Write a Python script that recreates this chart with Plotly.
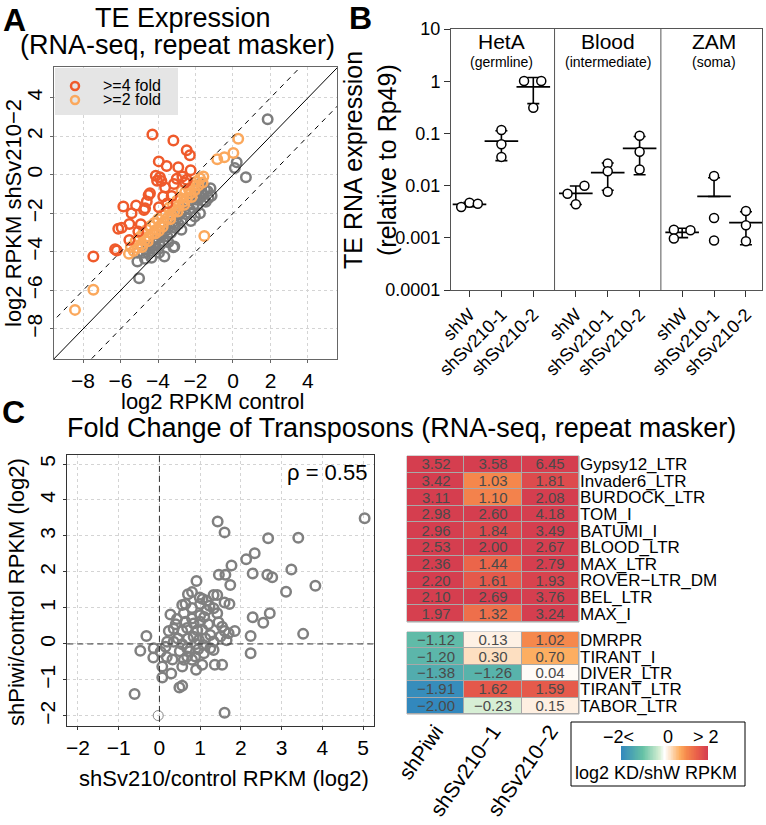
import numpy as np
import plotly.graph_objects as go

W, H = 766, 825
FONT = "Liberation Sans, Arial, sans-serif"


def fx(p):
    return p / W


def fy(p):
    return 1 - p / H


# ---------------- Panel A data (log2 RPKM control vs shSv210-2) ----------------
a_red = [(-4.30, 2.10), (-3.18, 1.78), (-2.47, 1.28), (-2.30, 1.02), (-3.96, 0.70), (-3.54, 0.46),
         (-2.92, 0.40), (-2.26, 0.24), (-4.12, -0.05), (-3.90, -0.12), (-4.05, -0.30), (-3.82, -0.32),
         (-2.70, -0.08), (-3.00, -0.20), (-2.47, -0.25), (-3.62, -0.66), (-3.15, -0.47), (-2.55, -0.40),
         (-4.43, -0.95), (-4.50, -1.05), (-3.72, -1.12), (-3.27, -1.10), (-3.95, -1.68), (-3.50, -1.47),
         (-5.85, -1.64), (-5.17, -1.59), (-5.41, -1.99), (-4.69, -1.73), (-4.60, -1.38), (-4.75, -1.82),
         (-5.53, -2.55), (-4.92, -2.56), (-5.05, -2.94), (-6.12, -2.80), (-5.94, -2.75), (-5.53, -3.38),
         (-6.29, -3.86), (-6.20, -3.93), (-7.45, -4.24)]
a_orange = [(0.28, 1.87), (0.02, 1.13), (-0.46, 0.92), (-0.84, 0.81), (-1.53, -3.17), (-7.45, -5.97),
            (-8.43, -7.01), (-1.58, -0.09), (-1.76, -0.17), (-1.62, -0.40), (-1.85, -0.55), (-1.95, -0.35),
            (-2.05, -0.80), (-2.15, -0.55), (-2.25, -0.95), (-2.35, -0.75), (-2.45, -1.20), (-2.55, -0.90),
            (-2.65, -1.40), (-2.74, -0.83), (-2.80, -1.20), (-2.90, -1.60), (-3.00, -1.35), (-3.10, -1.85),
            (-3.20, -1.55), (-3.30, -2.05), (-3.40, -1.70), (-3.50, -2.25), (-3.60, -1.95), (-3.70, -2.45),
            (-3.80, -2.10), (-3.90, -2.65), (-4.00, -2.30), (-4.10, -2.85), (-4.20, -2.50), (-4.30, -3.05),
            (-4.40, -2.65), (-4.50, -3.20), (-4.60, -2.85), (-4.70, -3.40), (-4.80, -3.05), (-4.90, -3.60),
            (-5.00, -3.25), (-5.10, -3.80), (-5.20, -3.45), (-5.30, -3.95), (-5.45, -3.75), (-5.55, -4.10),
            (-3.35, -2.30), (-3.75, -2.70), (-4.15, -3.05), (-4.55, -3.45), (-2.95, -1.90), (-2.60, -1.55),
            (-2.20, -1.15), (-4.85, -3.75), (-3.95, -2.90)]
a_gray = [(1.85, 2.89), (0.20, 0.66), (0.10, 0.35), (0.69, -0.12), (-1.14, -1.09), (-1.30, -1.20),
          (-1.45, -1.40), (-1.71, -0.43), (-1.76, -1.99), (-2.03, -2.16), (-3.13, -3.72), (-3.66, -4.24),
          (-3.18, -3.76), (-3.95, -4.05), (-4.35, -4.30), (-4.70, -4.35), (-5.10, -4.50), (-5.01, -5.37),
          (-5.08, -4.04), (-1.20, -0.70), (-1.35, -0.85), (-1.50, -0.75), (-1.60, -1.05), (-1.70, -0.90),
          (-1.85, -1.30), (-1.95, -1.05), (-2.10, -1.55), (-2.20, -1.30), (-2.30, -1.80), (-2.40, -1.55),
          (-2.50, -2.05), (-2.60, -1.80), (-2.70, -2.30), (-2.80, -2.00), (-2.90, -2.55), (-3.00, -2.25),
          (-3.10, -2.75), (-3.20, -2.45), (-3.30, -3.00), (-3.40, -2.70), (-3.50, -3.20), (-3.60, -2.90),
          (-3.70, -3.45), (-3.80, -3.10), (-3.90, -3.65), (-4.00, -3.30), (-4.10, -3.85), (-4.20, -3.55),
          (-4.30, -3.95), (-4.40, -3.70), (-4.50, -4.10), (-4.60, -3.85), (-4.80, -4.05), (-2.25, -2.40),
          (-2.75, -2.85), (-3.45, -3.50), (-1.90, -1.60), (-1.55, -1.35)]
a_legend = [">=4 fold", ">=2 fold"]

# ---------------- Panel B data (qPCR, relative to Rp49) ----------------
b_groups = ["HetA", "Blood", "ZAM"]
b_subtitles = ["(germline)", "(intermediate)", "(soma)"]
b_conditions = ["shW", "shSv210-1", "shSv210-2"]
b_hetA = [[0.0039, 0.0047, 0.0045], [0.116, 0.062, 0.0355], [1.01, 1.01, 0.31]]
b_blood = [[0.0070, 0.0099, 0.0044], [0.0265, 0.0189, 0.0076], [0.090, 0.0444, 0.0203]]
b_zam = [[0.00143, 0.00097, 0.00140], [0.0153, 0.00239, 0.00089], [0.00326, 0.00173, 0.00086]]
b_jitter = [[[-0.26, 0, 0.26], [0, 0, 0], [-0.29, 0.25, 0]],
            [[-0.26, 0.27, 0], [0, 0, 0], [0, 0, 0]],
            [[-0.26, -0.26, 0.26], [0, 0, 0], [0, 0, 0]]]
b_yticks = [0.0001, 0.001, 0.01, 0.1, 1, 10]
b_yticktext = ["0.0001", "0.001", "0.01", "0.1", "1", "10"]

# ---------------- Panel C data (fold changes) ----------------
c_points = [(1.43, 3.40), (1.60, 3.10), (5.04, 3.49), (2.67, 2.94), (3.41, 2.95), (2.13, 2.35),
            (2.34, 2.52), (1.77, 2.18), (1.46, 1.92), (1.62, 1.92), (2.29, 1.96), (2.65, 1.92),
            (2.77, 1.85), (3.24, 2.07), (0.91, 1.75), (1.74, 1.64), (3.11, 1.45), (3.83, 1.62),
            (0.70, 1.38), (0.80, 1.44), (0.99, 1.29), (1.06, 1.25), (1.33, 1.36), (1.42, 1.36),
            (1.60, 1.15), (1.72, 1.11), (0.56, 1.08), (0.27, 0.82), (0.43, 0.69), (-0.32, 0.22),
            (-0.47, -0.19), (-0.14, -0.12), (-0.15, -0.38), (0.07, -0.63), (0.07, -0.93), (0.29, -0.82),
            (0.49, -1.21), (0.56, -1.16), (-0.61, -1.39), (1.60, -1.91), (0.90, -0.72), (1.05, -0.58),
            (1.36, -0.58), (1.54, -0.58), (2.29, 0.74), (2.55, 0.59), (2.71, 0.85), (2.24, 0.22),
            (2.24, -0.26), (3.53, 0.28), (1.85, 0.36),
            (0.80, 0.71), (0.68, 0.44), (0.56, 0.36), (0.23, 0.36), (0.35, 0.06), (0.19, 0.06),
            (0.56, -0.01), (0.68, -0.12), (0.97, 0.11), (1.08, -0.03), (1.25, 0.25), (1.33, 0.07),
            (1.50, 0.21), (1.60, 0.36), (1.54, 0.48), (1.42, 0.85), (1.33, 0.99), (1.16, 0.94),
            (1.00, 0.80), (1.00, 0.62), (0.84, 0.57), (0.68, -0.35), (0.80, -0.44), (0.60, -0.44),
            (0.56, -0.63), (0.88, -0.35), (1.09, -0.26), (1.25, -0.12), (1.33, -0.17), (1.13, 0.15),
            (0.93, 0.38), (0.84, 0.20), (0.64, 0.62), (0.35, 0.42), (0.15, -0.08), (0.03, -0.22),
            (0.18, -0.36), (0.32, -0.43), (1.16, 1.20), (1.23, 1.06), (1.00, 1.11), (0.64, 1.11),
            (0.75, -0.20), (0.90, 0.00), (1.05, 0.40), (0.70, 0.15), (1.20, 0.55), (0.45, 0.15),
            (0.95, -0.15), (0.60, 0.85), (1.45, 0.60), (0.80, 1.00), (1.10, 0.75), (0.50, -0.20),
            (0.40, 0.55), (1.70, 0.30), (1.65, 0.10)]
c_faint = [(-0.03, -1.99)]
c_rho = "ρ = 0.55"

# ---------------- Heatmap data ----------------
h_cols = ["shPiwi", "shSv210−1", "shSv210−2"]
h_rows_up = ["Gypsy12_LTR", "Invader6_LTR", "BURDOCK_LTR", "TOM_I", "BATUMI_I", "BLOOD_LTR",
             "MAX_LTR", "ROVER−LTR_DM", "BEL_LTR", "MAX_I"]
h_vals_up = [[3.52, 3.58, 6.45], [3.42, 1.03, 1.81], [3.11, 1.10, 2.08], [2.98, 2.60, 4.18],
             [2.96, 1.84, 3.49], [2.53, 2.00, 2.67], [2.36, 1.44, 2.79], [2.20, 1.61, 1.93],
             [2.10, 2.69, 3.76], [1.97, 1.32, 3.24]]
h_rows_dn = ["DMRPR", "TIRANT_I", "DIVER_LTR", "TIRANT_LTR", "TABOR_LTR"]
h_vals_dn = [[-1.12, 0.13, 1.02], [-1.20, 0.30, 0.70], [-1.38, -1.26, 0.04],
             [-1.91, 1.62, 1.59], [-2.00, -0.23, 0.15]]
cbar_labels = ["−2<", "0", "> 2"]
cbar_title = "log2 KD/shW RPKM"

RED, ORANGE, GRAY = "#EF5A2B", "#FBA85C", "#7D7D7D"
CS = [[0.0, "#3288bd"], [0.25, "#66c2a5"], [0.44, "#d5eed3"], [0.5, "#ffffff"], [0.56, "#fde6cf"],
      [0.675, "#fdae61"], [0.75, "#f68a4c"], [0.875, "#e9604a"], [1.0, "#d53e4f"]]

fig = go.Figure()


def circles(pts, color, xa, ya, size=9.5, lw=2.5):
    return go.Scatter(x=[p[0] for p in pts], y=[p[1] for p in pts], mode="markers", xaxis=xa, yaxis=ya,
                      showlegend=False, hoverinfo="skip",
                      marker=dict(symbol="circle-open", size=size, color=color, line=dict(width=lw, color=color)))


# Panel A
fig.add_trace(circles(a_gray, GRAY, "x", "y"))
fig.add_trace(circles(a_orange, ORANGE, "x", "y"))
fig.add_trace(circles(a_red, RED, "x", "y"))

# Panel B
bx, by, mx, my, mp, mm = [], [], [], [], [], []
for g, reps in enumerate([b_hetA, b_blood, b_zam]):
    for i, vals in enumerate(reps):
        xc = g * 10 / 3 + i
        bx += [xc + o for o in b_jitter[g][i]]
        by += vals
        m = float(np.mean(vals))
        sd = float(np.std(vals, ddof=1))
        mx.append(xc)
        my.append(m)
        mp.append(sd)
        mm.append(sd if m - sd > 0 else 0.0)
fig.add_trace(go.Scatter(x=mx, y=my, mode="markers", xaxis="x2", yaxis="y2", showlegend=False, hoverinfo="skip",
                         marker=dict(symbol="line-ew", size=24, color="black", line=dict(width=1.8, color="black")),
                         error_y=dict(type="data", symmetric=False, array=mp, arrayminus=mm, width=6,
                                      thickness=1.6, color="black")))
fig.add_trace(go.Scatter(x=bx, y=by, mode="markers", xaxis="x2", yaxis="y2", showlegend=False, hoverinfo="skip",
                         marker=dict(symbol="circle", size=9, color="white", line=dict(width=1.5, color="black"))))

# Panel C
fig.add_trace(circles(c_points, "#808080", "x3", "y3"))
fig.add_trace(circles(c_faint, "#888888", "x3", "y3", size=10, lw=1))


def fmt(v):
    return f"{v:.2f}".replace("-", "−")


for rows, vals, xa, ya in [(h_rows_up, h_vals_up, "x4", "y4"), (h_rows_dn, h_vals_dn, "x5", "y5")]:
    fig.add_trace(go.Heatmap(z=vals, x=h_cols, y=rows, xaxis=xa, yaxis=ya, colorscale=CS, zmin=-2, zmax=2,
                             showscale=False, xgap=1, ygap=1, hoverinfo="skip",
                             text=[[fmt(v) for v in r] for r in vals], texttemplate="%{text}",
                             textfont=dict(size=15, color="#4a4a4a", family=FONT)))

fig.add_trace(go.Heatmap(z=[np.linspace(-2, 2, 121).tolist()], xaxis="x6", yaxis="y6", colorscale=CS,
                         zmin=-2, zmax=2, showscale=False, hoverinfo="skip"))

grid = dict(showgrid=True, gridcolor="#d4d4d4", griddash="dot", gridwidth=1, zeroline=False,
            showline=True, mirror=True, ticks="outside", ticklen=3, tickfont=dict(size=21, color="black"),
            automargin=False)

hm_y = dict(side="right", autorange="reversed", showgrid=False, zeroline=False, showline=False, ticks="",
            tickfont=dict(size=17), automargin=False, tickmode="array", type="category")

layout = dict(
    width=W, height=H, margin=dict(l=0, r=0, t=0, b=0), autosize=False,
    paper_bgcolor="white", plot_bgcolor="rgba(0,0,0,0)", template="none",
    font=dict(family=FONT, color="black"), showlegend=False,
    xaxis=dict(domain=[fx(54), fx(337)], range=[-9.55, 5.55], tickvals=[-8, -6, -4, -2, 0, 2, 4],
               anchor="y", linecolor="#666", tickcolor="#666", **grid),
    yaxis=dict(domain=[fy(359), fy(67)], range=[-9.56, 5.6], tickvals=[-8, -6, -4, -2, 0, 2, 4],
               tickangle=-90, anchor="x", linecolor="#666", tickcolor="#666", **grid),
    xaxis2=dict(domain=[fx(451), fx(762)], range=[-0.58, 9.17], anchor="y2",
                tickvals=[g * 10 / 3 + i for g in range(3) for i in range(3)], ticktext=b_conditions * 3,
                tickangle=-45, tickfont=dict(size=18), ticks="outside", ticklen=6, tickcolor="#333",
                showline=True, mirror=True, linecolor="#555", showgrid=False, zeroline=False, automargin=False),
    yaxis2=dict(domain=[fy(290), fy(29)], type="log", range=[-4, 1], anchor="x2", tickvals=b_yticks,
                ticktext=b_yticktext, tickfont=dict(size=18), ticks="outside", ticklen=6, tickcolor="#333",
                showline=True, mirror=True, linecolor="#555", showgrid=False, zeroline=False, automargin=False),
    xaxis3=dict(domain=[fx(67), fx(374)], range=[-2.27, 5.27], dtick=1, tick0=0, anchor="y3",
                linecolor="#333", tickcolor="#333", **grid),
    yaxis3=dict(domain=[fy(726), fy(455)], range=[-2.28, 5.25], dtick=1, tick0=0, tickangle=-90, anchor="x3",
                linecolor="#333", tickcolor="#333", **grid),
    xaxis4=dict(domain=[fx(407), fx(579)], anchor="y4", showticklabels=False, showgrid=False, zeroline=False,
                showline=False, ticks="", automargin=False),
    yaxis4=dict(domain=[fy(622), fy(456)], anchor="x4", tickvals=h_rows_up, ticktext=h_rows_up, **hm_y),
    xaxis5=dict(domain=[fx(407), fx(579)], anchor="y5", tickangle=-55, tickfont=dict(size=21), showgrid=False,
                zeroline=False, showline=False, ticks="", automargin=False, tickmode="array",
                tickvals=h_cols, ticktext=h_cols),
    yaxis5=dict(domain=[fy(714), fy(632)], anchor="x5", tickvals=h_rows_dn, ticktext=h_rows_dn, **hm_y),
    xaxis6=dict(domain=[fx(621), fx(708)], anchor="y6", visible=False),
    yaxis6=dict(domain=[fy(760), fy(746)], anchor="x6", visible=False),
)
fig.update_layout(**layout)

shapes = []
# Panel A reference lines
for off, dash in [(0, "solid"), (2, "5px,5px"), (-2, "5px,5px")]:
    shapes.append(dict(type="line", xref="x", yref="y", x0=-12, y0=-12 + off, x1=8, y1=8 + off,
                       line=dict(color="black", width=1, dash=dash)))
# Panel A legend box + glyphs
shapes.append(dict(type="rect", xref="paper", yref="paper", x0=fx(55), x1=fx(178), y0=fy(115), y1=fy(68),
                   fillcolor="#e5e5e5", line=dict(width=0), layer="above"))
for cy, col in [(86, RED), (100, ORANGE)]:
    shapes.append(dict(type="circle", xref="paper", yref="paper", x0=fx(71), x1=fx(79), y0=fy(cy + 4),
                       y1=fy(cy - 4), line=dict(color=col, width=2.5), layer="above"))
# Panel B dividers
for xd in [(2 + 10 / 3) / 2, (2 + 10 / 3 + 20 / 3) / 2]:
    shapes.append(dict(type="line", xref="x2", yref="y2 domain", x0=xd, x1=xd, y0=0, y1=1,
                       line=dict(color="#555", width=1)))
# Panel C dashed zero lines
shapes.append(dict(type="line", xref="x3", yref="y3", x0=0, x1=0, y0=-3, y1=6,
                   line=dict(color="#333", width=1, dash="6px,4px")))
shapes.append(dict(type="line", xref="x3", yref="y3", x0=-3, x1=6, y0=0, y1=0,
                   line=dict(color="#333", width=1, dash="6px,4px")))
# Heatmap borders
for xa, ya in [("x4", "y4"), ("x5", "y5")]:
    shapes.append(dict(type="rect", xref=f"{xa} domain", yref=f"{ya} domain", x0=0, x1=1, y0=0, y1=1,
                       fillcolor="#a8a8a8", line=dict(color="#a8a8a8", width=1), layer="below"))
# Colour key box
shapes.append(dict(type="rect", xref="paper", yref="paper", x0=fx(571), x1=fx(745), y0=fy(786), y1=fy(722),
                   line=dict(color="black", width=1)))
fig.update_layout(shapes=shapes)


def ann(x, y, text, size, angle=0, xanchor="center", xref="paper"):
    return dict(x=x, y=y, xref=xref, yref="paper", text=text, showarrow=False, textangle=angle,
                font=dict(size=size, family=FONT, color="black"), xanchor=xanchor, yanchor="middle")


anns = [
    ann(fx(14), fy(20), "<b>A</b>", 32),
    ann(fx(183), fy(18), "TE Expression", 27),
    ann(fx(177), fy(45), "(RNA-seq, repeat masker)", 27),
    ann(fx(13), fy(213), "log2 RPKM shSv210−2", 22, -90),
    ann(fx(212), fy(401), "log2 RPKM control", 22),
    ann(fx(101), fy(85), a_legend[0], 16, xanchor="left"),
    ann(fx(101), fy(99), a_legend[1], 16, xanchor="left"),
    ann(fx(360), fy(18), "<b>B</b>", 32),
    ann(fx(353), fy(160), "TE RNA expression", 25, -90),
    ann(fx(387), fy(160), "(relative to Rp49)", 25, -90),
    ann(fx(13), fy(412), "<b>C</b>", 32),
    ann(fx(402), fy(428), "Fold Change of Transposons (RNA-seq, repeat masker)", 27),
    ann(fx(327), fy(472), c_rho, 22),
    ann(fx(16), fy(592), "shPiwi/control RPKM (log2)", 22, -90),
    ann(fx(224), fy(778), "shSv210/control RPKM (log2)", 22),
    ann(fx(618), fy(737), cbar_labels[0], 18),
    ann(fx(668), fy(737), cbar_labels[1], 18),
    ann(fx(706), fy(737), cbar_labels[2], 18),
    ann(fx(656), fy(773), cbar_title, 18),
]
for g in range(3):
    anns.append(ann(g * 10 / 3 + 1, fy(42), b_groups[g], 21, xref="x2"))
    anns.append(ann(g * 10 / 3 + 1, fy(62), b_subtitles[g], 14, xref="x2"))
fig.update_layout(annotations=anns)

fig.write_html("out.html", config={"displayModeBar": False},
               post_script="document.body.style.margin='0';document.body.style.padding='0';"
                           "document.body.style.overflow='hidden';")
